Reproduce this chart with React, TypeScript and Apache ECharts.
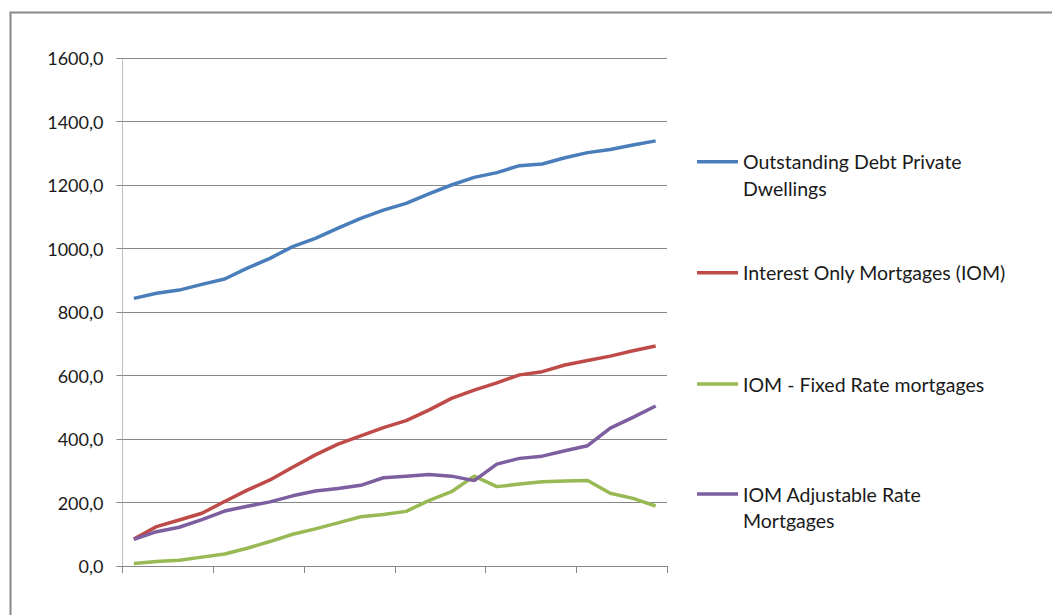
import React, { useEffect, useRef } from "react";
import * as echarts from "echarts";

const categories = [
  "1", "2", "3", "4", "5", "6", "7", "8", "9", "10", "11", "12",
  "13", "14", "15", "16", "17", "18", "19", "20", "21", "22", "23", "24",
];

const seriesNames = [
  "Outstanding Debt Private Dwellings",
  "Interest Only Mortgages (IOM)",
  "IOM - Fixed Rate mortgages",
  "IOM Adjustable Rate Mortgages",
];

const legendLabels = [
  "Outstanding Debt Private\nDwellings",
  "Interest Only Mortgages (IOM)",
  "IOM - Fixed Rate mortgages",
  "IOM Adjustable Rate\nMortgages",
];

const outstandingDebt = [
  843, 859, 869, 887, 904, 938, 969, 1006, 1032, 1064, 1095, 1121,
  1142, 1172, 1200, 1224, 1239, 1261, 1266, 1286, 1302, 1312, 1326, 1339,
];
const interestOnly = [
  85, 124, 145, 166, 203, 239, 271, 311, 350, 384, 410, 436,
  458, 491, 528, 554, 577, 602, 612, 633, 647, 661, 678, 693,
];
const fixedRate = [
  8, 14, 18, 28, 38, 56, 77, 100, 117, 136, 155, 162,
  172, 206, 234, 283, 250, 258, 265, 268, 269, 229, 213, 189,
];
const adjustableRate = [
  84, 108, 122, 146, 173, 188, 202, 221, 236, 244, 254, 278,
  283, 288, 283, 269, 321, 339, 346, 363, 379, 434, 468, 504,
];

const colors = ["#4A7EBB", "#BE4B48", "#98B954", "#7D5FA0"];
const values = [outstandingDebt, interestOnly, fixedRate, adjustableRate];

const FONT = "Lato";
const FS = 18;
const LFS = 19.5;
const LH = 26.5;

export default function App() {
  const ref = useRef<HTMLDivElement>(null);

  useEffect(() => {
    if (!ref.current) return;
    const chart = echarts.init(ref.current, undefined, { renderer: "svg" });

    const legendCenters = [161.7, 272.7, 384, 494];
    const legends = seriesNames.map((name, i) => {
      const twoLine = legendLabels[i].includes("\n");
      // a leading blank line keeps the first text line level with the icon
      const label = twoLine ? "\n" + legendLabels[i] : legendLabels[i];
      return {
        show: true,
        orient: "vertical",
        left: 697,
        top: legendCenters[i] - (twoLine ? LH * 1.5 : LH / 2),
        padding: 0,
        data: [name],
        icon: "rect",
        itemWidth: 41,
        itemHeight: 3.5,
        selectedMode: false,
        formatter: () => label,
        textStyle: {
          fontFamily: FONT,
          fontSize: LFS,
          color: "#1a1a1a",
          lineHeight: LH,
        },
      };
    });

    chart.setOption({
      animation: false,
      backgroundColor: "#ffffff",
      color: colors,
      textStyle: { fontFamily: FONT },
      grid: { left: 122.5, right: 385, top: 58, bottom: 49, containLabel: false },
      legend: legends,
      graphic: [
        {
          type: "rect",
          shape: { x: 10.5, y: 12.5, width: 1200, height: 800 },
          style: { fill: "none", stroke: "#878787", lineWidth: 2 },
          silent: true,
        },
      ],
      xAxis: {
        type: "category",
        data: categories,
        boundaryGap: true,
        axisLine: { show: true, lineStyle: { color: "#878787", width: 1 } },
        axisTick: { show: true, interval: 3, length: 7, lineStyle: { color: "#878787" } },
        axisLabel: { show: false },
        splitLine: { show: false },
      },
      yAxis: {
        type: "value",
        min: 0,
        max: 1600,
        interval: 200,
        axisLine: { show: true, lineStyle: { color: "#BFBFBF", width: 1 } },
        axisTick: { show: true, length: 6, lineStyle: { color: "#878787" } },
        axisLabel: {
          fontFamily: FONT,
          fontSize: FS,
          color: "#1a1a1a",
          margin: 19,
          formatter: (v: number) => v.toFixed(1).replace(".", ","),
        },
        splitLine: { show: true, lineStyle: { color: "#878787", width: 1 } },
      },
      series: seriesNames.map((name, i) => ({
        name,
        type: "line",
        data: values[i],
        showSymbol: false,
        symbol: "none",
        lineStyle: { width: 3.5, color: colors[i] },
        itemStyle: { color: colors[i] },
        z: 2 + i,
      })),
    });

    return () => chart.dispose();
  }, []);

  return (
    <div
      ref={ref}
      style={{ position: "fixed", left: 0, top: 0, width: 1052, height: 615 }}
    />
  );
}
